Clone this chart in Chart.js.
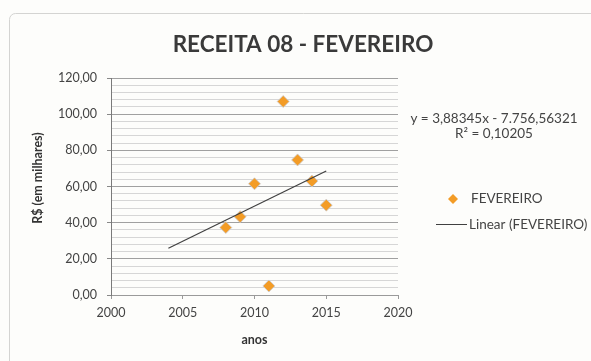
<!DOCTYPE html>
<html>
<head>
<meta charset="utf-8">
<script src="https://cdn.jsdelivr.net/npm/chart.js@4.4.0/dist/chart.umd.min.js"></script>
<style>
html,body{margin:0;padding:0;background:#fdfdfb;}
#wrap{width:591px;height:361px;position:relative;}
</style>
</head>
<body>
<div id="wrap"><canvas id="c" width="591" height="361"></canvas></div>
<script>
const chartTitle = 'RECEITA 08 - FEVEREIRO';
const years = [2008, 2009, 2010, 2011, 2012, 2013, 2014, 2015];
const fevereiro = [37.3, 43.3, 61.5, 5.0, 107.0, 74.7, 63.0, 49.7];
const trendYears = [2004, 2015];
const trendValues = [25.87, 68.59];
const yTickLabels = ['0,00','20,00','40,00','60,00','80,00','100,00','120,00'];
const xTickLabels = ['2000','2005','2010','2015','2020'];
const xAxisTitle = 'anos';
const yAxisTitle = 'R$ (em milhares)';
const equationText = 'y = 3,88345x - 7.756,56321';
const r2Text = 'R² = 0,10205';
const seriesName = 'FEVEREIRO';
const trendName = 'Linear (FEVEREIRO)';

const FONT = 'Lato, "Open Sans", sans-serif';
const ORANGE = '#f39c26';

const decor = {
  id: 'decor',
  beforeDraw(chart) {
    const ctx = chart.ctx;
    ctx.save();
    ctx.fillStyle = '#fdfdfb';
    ctx.fillRect(0, 0, chart.width, chart.height);
    ctx.strokeStyle = '#d4d4d2';
    ctx.lineWidth = 1;
    ctx.beginPath();
    ctx.roundRect(9.5, 13.5, 700, 500, 6);
    ctx.stroke();
    ctx.restore();
  },
  afterDraw(chart) {
    const ctx = chart.ctx;
    ctx.save();
    ctx.fillStyle = '#3a3a3a';
    ctx.textAlign = 'center';
    ctx.textBaseline = 'middle';
    ctx.font = 'bold 22.5px ' + FONT;
    ctx.fillText(chartTitle, 303, 45);
    // y axis title
    ctx.save();
    ctx.translate(38, 178);
    ctx.rotate(-Math.PI / 2);
    ctx.fillStyle = '#333';
    ctx.font = 'bold 12.5px ' + FONT;
    ctx.fillText(yAxisTitle, 0, 0);
    ctx.restore();
    ctx.fillStyle = '#444';
    ctx.font = '13.5px ' + FONT;
    ctx.fillText(equationText, 494, 119);
    ctx.fillText(r2Text, 494, 134);
    // legend
    ctx.textAlign = 'left';
    ctx.font = '13.5px ' + FONT;
    ctx.fillText(seriesName, 471, 199);
    ctx.fillText(trendName, 469, 225);
    ctx.fillStyle = ORANGE;
    ctx.beginPath();
    ctx.moveTo(453, 194); ctx.lineTo(458, 199); ctx.lineTo(453, 204); ctx.lineTo(448, 199); ctx.closePath();
    ctx.fill();
    ctx.strokeStyle = '#404040';
    ctx.lineWidth = 1;
    ctx.beginPath();
    ctx.moveTo(436, 224.5); ctx.lineTo(467, 224.5); ctx.stroke();
    ctx.restore();
  }
};

new Chart(document.getElementById('c'), {
  type: 'scatter',
  data: {
    datasets: [
      {
        label: seriesName,
        data: years.map((x, i) => ({x, y: fevereiro[i]})),
        pointStyle: 'rectRot',
        pointRadius: 6,
        pointHoverRadius: 6,
        backgroundColor: ORANGE,
        borderColor: '#c9cdd6',
        borderWidth: 0.8,
        order: 2
      },
      {
        type: 'line',
        label: trendName,
        data: trendYears.map((x, i) => ({x, y: trendValues[i]})),
        borderColor: '#404040',
        borderWidth: 1.2,
        pointRadius: 0,
        fill: false,
        order: 1
      }
    ]
  },
  options: {
    responsive: false,
    animation: false,
    events: [],
    layout: {padding: {left: 0, top: 78, right: 193, bottom: 0}},
    plugins: {legend: {display: false}, tooltip: {enabled: false}, title: {display: false}},
    scales: {
      x: {
        type: 'linear',
        min: 2000, max: 2020,
        afterFit(s) { s.height = 66; },
        ticks: {
          stepSize: 5,
          padding: 6,
          color: '#444',
          font: {family: FONT, size: 12.5},
          callback: (v) => xTickLabels[xTickLabels.indexOf(String(v))] || ''
        },
        grid: {drawOnChartArea: false, drawTicks: true, tickLength: 4, color: '#9a9a9a'},
        border: {display: true, color: '#9a9a9a', width: 1},
        title: {display: true, text: xAxisTitle, color: '#333', font: {family: FONT, size: 12.5, weight: 'bold'}, padding: {top: 0, bottom: 14}}
      },
      y: {
        min: 0, max: 120,
        afterFit(s) { s.width = 111; },
        ticks: {
          stepSize: 4,
          padding: 10,
          color: '#444',
          font: {family: FONT, size: 12.5},
          autoSkip: false,
          callback: (v) => (v % 20 === 0 ? yTickLabels[v / 20] : '')
        },
        grid: {
          drawTicks: true,
          tickLength: 4,
          color: (c) => (c.tick && c.tick.value % 20 === 0 ? '#a0a0a0' : '#d6d6d6'),
          tickColor: (c) => (c.tick && c.tick.value % 20 === 0 ? '#888' : 'rgba(0,0,0,0)'),
          lineWidth: 1
        },
        border: {display: true, color: '#7a7a7a', width: 1},
        title: {display: false}
      }
    }
  },
  plugins: [decor]
});
</script>
</body>
</html>
